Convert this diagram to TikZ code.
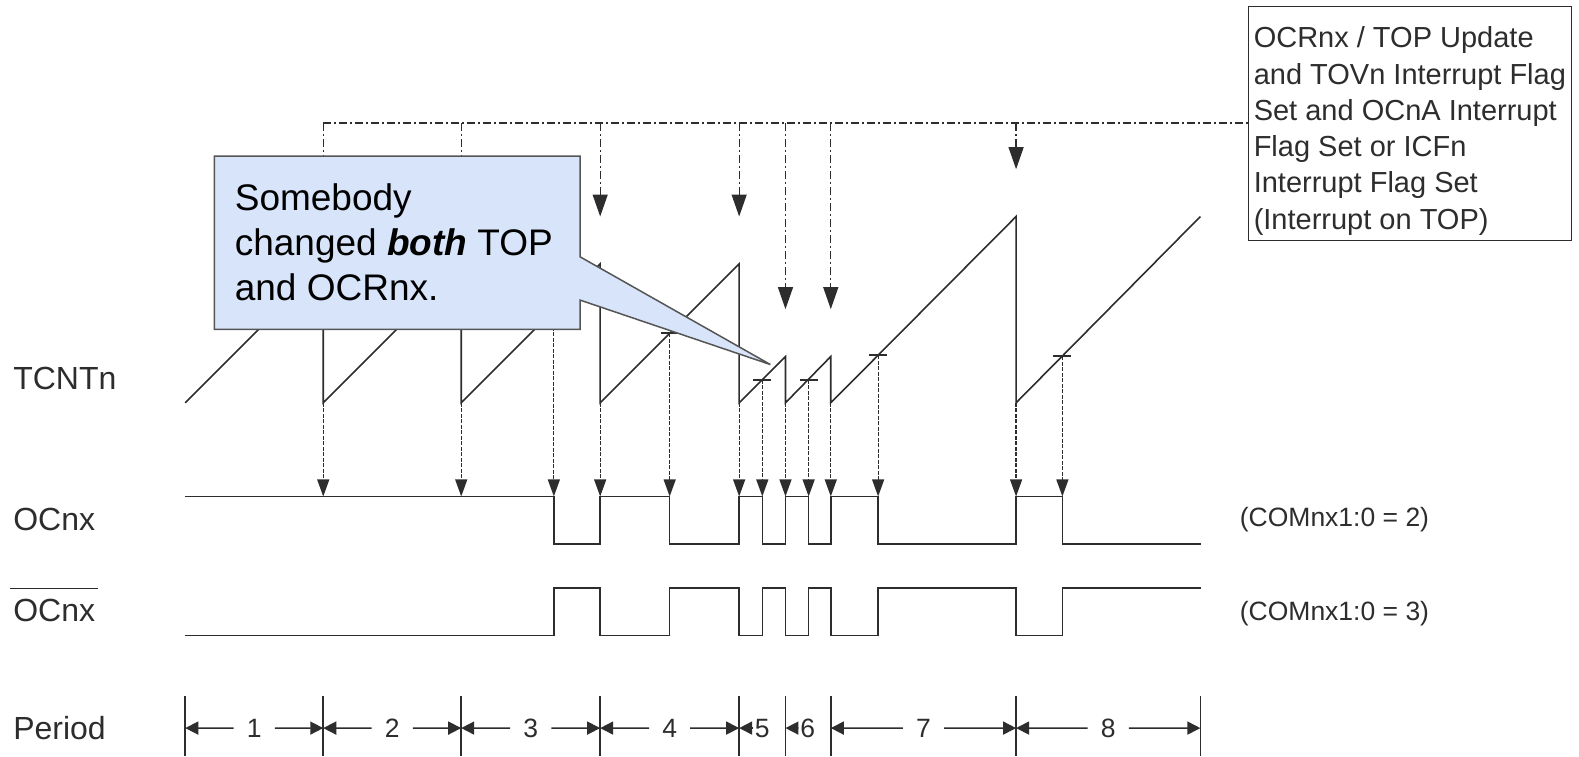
\documentclass[tikz,border=0pt]{standalone}
\usepackage{fontspec}
\setmainfont{Liberation Sans}
\usetikzlibrary{arrows.meta,calc}

\definecolor{notefill}{RGB}{215,228,249}
\definecolor{noteline}{RGB}{85,85,85}
\definecolor{ink}{RGB}{45,45,45}

\tikzset{
    wave/.style={draw=ink, line width=1.6pt},
    flagline/.style={draw=ink, line width=1.3pt, dash pattern=on 8pt off 3pt on 2pt off 3pt},
    flagarrow/.style={flagline, -{Triangle[length=22pt, width=15pt]}},
    matcharrow/.style={draw=ink, line width=1.2pt, dash pattern=on 4pt off 1.5pt, -{Triangle[length=17pt, width=12pt]}},
    marktick/.style={draw=ink, line width=2pt},
    periodarrow/.style={draw=ink, line width=1.6pt, -{Triangle[length=13pt, width=13pt]}},
    siglabel/.style={anchor=base west, inner sep=0pt, text=ink, font=\fontsize{32}{38}\selectfont},
    modelabel/.style={anchor=base west, inner sep=0pt, text=ink, font=\fontsize{26.5}{32}\selectfont},
    periodnum/.style={inner xsep=13pt, inner ysep=0pt, text=ink, font=\fontsize{26.5}{32}\selectfont},
    flagbox/.style={draw=ink, line width=1.3pt, anchor=north west, align=left, text=ink,
        minimum width=323pt, inner xsep=5pt, inner ysep=0pt, font=\fontsize{29}{36.25}\selectfont},
    notetext/.style={anchor=north west, inner sep=0pt, align=left, font=\fontsize{37}{45}\selectfont},
}

\begin{document}
\begin{tikzpicture}[x=1.007pt, y=-1.007pt]
    \useasboundingbox (0,0) rectangle (1568,751);

    \node [flagbox] (flagbox)
        at (1239,6) {\rule{0pt}{41.3pt}OCRnx / TOP Update\\and TOVn Interrupt Flag\\Set and OCnA Interrupt\\Flag Set or ICFn\\Interrupt Flag Set\\(Interrupt on TOP)\rule[-11.1pt]{0pt}{11.1pt}}
        ;
    \coordinate (flagstart) at (321,122);
    \draw [flagline]
        (flagstart) -- (flagstart -| flagbox.west)
        ;

    \draw [wave]
        (184,400) -- (321,263) -- (321,400) -- (458,263) -- (458,400)
        -- (596,262) -- (596,400) -- (734,262) -- (734,400)
        -- (780,354) -- (780,400) -- (825,354) -- (825,400)
        -- (1009,215) -- (1009,400) -- (1192,215)
        ;

    \foreach \x/\y [count=\i] in {321/263,458/263,596/262,734/262,780/354,825/354,1009/215} {
        \coordinate (flag\i) at (\x,122);
        \coordinate (top\i) at (\x,\y-47);
        \coordinate (bot\i) at (\x,400);
        \coordinate (hit\i) at (\x,493);
        \draw [flagarrow] (flag\i) -- (top\i);
        \draw [matcharrow] (bot\i) -- (hit\i);
    }

    \foreach \x/\y [count=\i] in {550/308,665/331,757/377,803/377,872/353,1055/354} {
        \coordinate (cmp\i) at (\x,\y);
        \coordinate (clr\i) at (\x,493);
        \draw [marktick] ([xshift=-9pt]cmp\i) -- ([xshift=9pt]cmp\i);
        \draw [matcharrow] (cmp\i) -- (clr\i);
    }

    \draw [wave]
        (184,493) -| (550,540) -| (596,493) -| (665,540) -| (734,493)
        -| (757,540) -| (780,493) -| (803,540) -| (825,493)
        -| (872,540) -| (1009,493) -| (1055,540) -- (1193,540)
        ;
    \draw [wave]
        (184,631) -| (550,584) -| (596,631) -| (665,584) -| (734,631)
        -| (757,584) -| (780,631) -| (803,584) -| (825,631)
        -| (872,584) -| (1009,631) -| (1055,584) -- (1193,584)
        ;

    \foreach \x [count=\i from 0] in {184,321,458,596,734,780,825,1009,1192} {
        \coordinate (bnd\i) at (\x,723);
        \draw [wave] (\x,691) -- (\x,751);
    }
    \foreach \a/\b/\n in {0/1/1,1/2/2,2/3/3,3/4/4,6/7/7,7/8/8} {
        \node [periodnum] (per\n) at ($(bnd\a)!0.5!(bnd\b)$) {\n};
        \draw [periodarrow] (per\n.west) -- (bnd\a);
        \draw [periodarrow] (per\n.east) -- (bnd\b);
    }
    \node [periodnum, inner xsep=2pt] (per5) at (757,723) {5};
    \draw [periodarrow] (per5.west) -- (bnd4);
    \node [periodnum, inner xsep=2pt] (per6) at (802,723) {6};
    \draw [periodarrow] (per6.west) -- (bnd5);

    \node [siglabel] (tcntlabel) at (13,387) {TCNTn};
    \node [siglabel] (ocnxlabel) at (13,527) {OCnx};
    \node [siglabel] (ocnxbarlabel) at (13,617) {OCnx};
    \draw [draw=ink, line width=1.4pt]
        ([shift={(-3,-10)}]ocnxbarlabel.north west) -- ([shift={(3,-10)}]ocnxbarlabel.north east)
        ;
    \node [siglabel] (periodlabel) at (13,734) {Period};

    \node [modelabel] (modetwo) at (1231,523) {(COMnx1:0 = 2)};
    \node [modelabel] (modethree) at (1231,616) {(COMnx1:0 = 3)};

    \draw [draw=noteline, fill=notefill, line width=1.5pt]
        (213,155) -- (576,155) -- (576,255) -- (765,362) -- (576,298) -- (576,327) -- (213,327) -- cycle
        ;
    \node [notetext] (note)
        at (233,182) {Somebody\\changed \textbf{\textit{both}} TOP\\and OCRnx.}
        ;
\end{tikzpicture}
\end{document}
